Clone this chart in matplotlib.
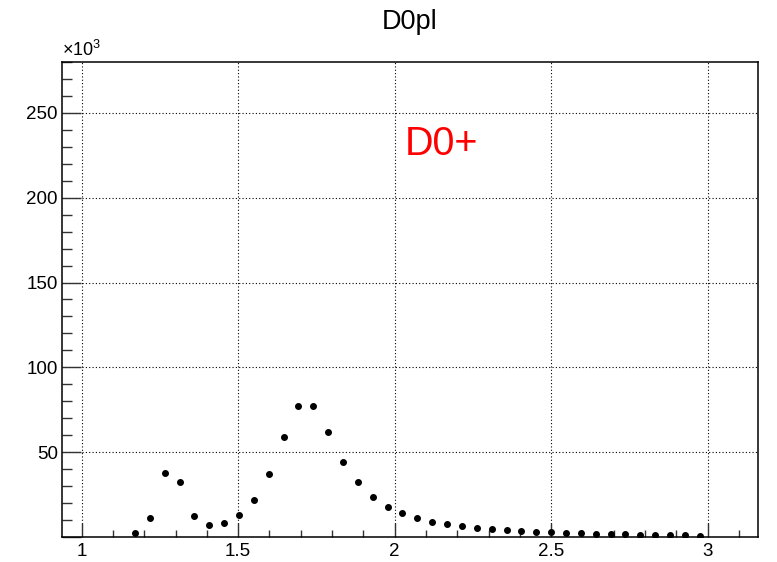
import numpy as np
import matplotlib
matplotlib.use("Agg")
from matplotlib import pyplot as plt
from matplotlib.ticker import MultipleLocator, FuncFormatter

plt.rcParams['font.family'] = ['Liberation Sans', 'DejaVu Sans']
plt.rcParams['mathtext.fontset'] = 'custom'
plt.rcParams['mathtext.rm'] = 'Liberation Sans'

# bin centres of the D0pl histogram and their contents
first_center = 1.170
bin_width = 0.0475
counts = [
    2400, 11400, 37500, 32700, 12400, 7300, 8200, 12700, 21800, 37300,
    59000, 77400, 77300, 61800, 44300, 32400, 23500, 17800, 13900, 11400,
    8800, 7600, 6300, 5300, 4700, 4100, 3500, 3100, 2700, 2400,
    2200, 1900, 1800, 1600, 1400, 1200, 1200, 1000, 800,
]
centers = first_center + bin_width * np.arange(len(counts))

title = "D0pl"
label = "D0+"

fig = plt.figure(figsize=(7.77, 5.62), dpi=100)
ax = fig.add_axes([0.0798, 0.0445, 0.8957, 0.8452])

ax.plot(centers, counts, 'o', color='black', markersize=4)

ax.set_xlim(0.937, 3.161)
ax.set_ylim(0, 280000)

ax.xaxis.set_major_locator(MultipleLocator(0.5))
ax.xaxis.set_minor_locator(MultipleLocator(0.1))
ax.yaxis.set_major_locator(MultipleLocator(50000))
ax.yaxis.set_minor_locator(MultipleLocator(10000))
ax.xaxis.set_major_formatter(FuncFormatter(lambda v, p: f"{v:g}"))
ax.yaxis.set_major_formatter(FuncFormatter(lambda v, p: "" if v == 0 else f"{v / 1000:g}"))

ax.tick_params(which='both', direction='in', top=False, right=False,
               labelsize=13.5, color='#333333', width=1)
ax.tick_params(axis='x', which='major', length=10, pad=4)
ax.tick_params(axis='x', which='minor', length=5)
ax.tick_params(axis='y', which='major', length=14, pad=3)
ax.tick_params(axis='y', which='minor', length=7)

ax.grid(True, which='major', color='black', linestyle=(0, (1, 2)), linewidth=0.8)
for s in ax.spines.values():
    s.set_linewidth(1.1)

ax.set_title(title, fontsize=19.5, pad=24)
ax.text(2.032, 225000, label, color='red', fontsize=28.5)
ax.text(0.0, 1.004, r'$\times10^{3}$', transform=ax.transAxes,
        fontsize=13, ha='left', va='bottom')

fig.savefig("out.png", dpi=100)
